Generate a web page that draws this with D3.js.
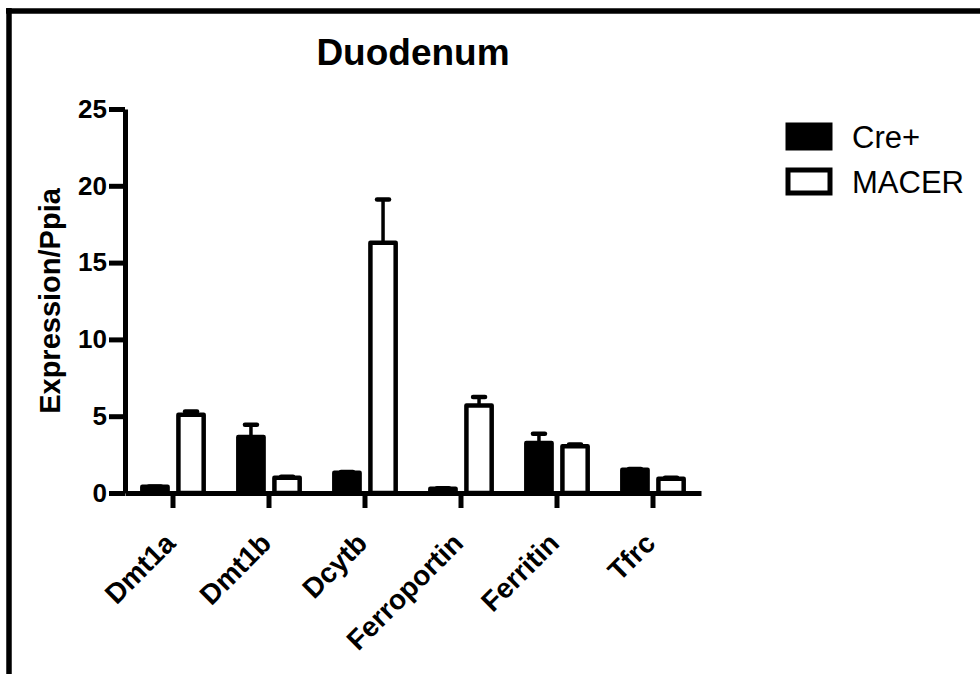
<!DOCTYPE html>
<html>
<head>
<meta charset="utf-8">
<script src="https://cdn.jsdelivr.net/npm/d3@7"></script>
<style>
  body { margin: 0; background: #fff; }
  svg { display: block; font-family: Arial, "Liberation Sans", Helvetica, sans-serif; }
</style>
</head>
<body>
<div id="chart"></div>
<script>
const categories = ["Dmt1a", "Dmt1b", "Dcytb", "Ferroportin", "Ferritin", "Tfrc"];
const groups = ["Cre+", "MACER"];
const creMeans = [0.4, 3.65, 1.32, 0.28, 3.25, 1.52];
const creErrors = [0.03, 0.8, 0.05, 0.03, 0.6, 0.04];
const macerMeans = [5.1, 1.0, 16.3, 5.7, 3.04, 0.93];
const macerErrors = [0.2, 0.06, 2.8, 0.55, 0.12, 0.07];
const yTicks = [0, 5, 10, 15, 20, 25];

const width = 980;
const height = 674;

const svg = d3.select("#chart")
  .append("svg")
  .attr("width", width)
  .attr("height", height);

// frame (top and left edges only)
svg.append("line")
  .attr("x1", 6).attr("x2", width)
  .attr("y1", 11).attr("y2", 11)
  .attr("stroke", "#000").attr("stroke-width", 5.5);
svg.append("line")
  .attr("x1", 9).attr("x2", 9)
  .attr("y1", 8).attr("y2", height)
  .attr("stroke", "#000").attr("stroke-width", 5.5);

const x = d3.scaleBand()
  .domain(categories)
  .range([125, 701]);

const xSub = d3.scaleBand()
  .domain(groups)
  .range([0, x.bandwidth()])
  .paddingInner(0.3)
  .paddingOuter(0.48);

const y = d3.scaleLinear()
  .domain([0, 25])
  .range([493, 109]);

const fills = { "Cre+": "#000", "MACER": "#fff" };

const rows = [];
categories.forEach((c, i) => {
  rows.push({ cat: c, group: "Cre+", mean: creMeans[i], err: creErrors[i] });
  rows.push({ cat: c, group: "MACER", mean: macerMeans[i], err: macerErrors[i] });
});

const bar = svg.selectAll(".bar")
  .data(rows)
  .enter().append("g")
  .attr("class", "bar")
  .attr("transform", d => `translate(${x(d.cat) + xSub(d.group)},0)`);

// error bars (upper only)
bar.append("line")
  .attr("x1", xSub.bandwidth() / 2).attr("x2", xSub.bandwidth() / 2)
  .attr("y1", d => y(d.mean)).attr("y2", d => y(d.mean + d.err))
  .attr("stroke", "#000").attr("stroke-width", 3.5);
bar.append("line")
  .attr("x1", xSub.bandwidth() / 2 - 6).attr("x2", xSub.bandwidth() / 2 + 6)
  .attr("y1", d => y(d.mean + d.err)).attr("y2", d => y(d.mean + d.err))
  .attr("stroke", "#000").attr("stroke-width", 4.5)
  .attr("stroke-linecap", "round");

bar.append("rect")
  .attr("x", 0)
  .attr("width", xSub.bandwidth())
  .attr("y", d => y(d.mean))
  .attr("height", d => y(0) - y(d.mean))
  .attr("fill", d => fills[d.group])
  .attr("stroke", "#000")
  .attr("stroke-width", 4.5)
  .attr("stroke-linejoin", "round");

// axes
const yAxis = svg.append("g")
  .attr("transform", "translate(125,0)")
  .call(d3.axisLeft(y).tickValues(yTicks).tickSize(16).tickSizeOuter(0).tickPadding(2));

const xAxis = svg.append("g")
  .attr("transform", "translate(0,493)")
  .call(d3.axisBottom(x).tickSize(15).tickSizeOuter(0));

[yAxis, xAxis].forEach(ax => {
  ax.select(".domain").attr("stroke", "#000").attr("stroke-width", 5);
  ax.selectAll(".tick line").attr("stroke", "#000").attr("stroke-width", 5);
});

yAxis.selectAll(".tick text")
  .attr("fill", "#000")
  .style("font-size", "26px")
  .style("font-weight", "bold");

xAxis.selectAll(".tick text")
  .attr("fill", "#000")
  .attr("x", 0).attr("y", 0).attr("dy", "0.35em")
  .attr("text-anchor", "end")
  .attr("transform", "translate(-3,45) rotate(-45)")
  .style("font-size", "28px")
  .style("font-weight", "bold");

// y axis title
svg.append("text")
  .attr("transform", "translate(60,301) rotate(-90)")
  .attr("text-anchor", "middle")
  .style("font-size", "29px")
  .style("font-weight", "bold")
  .text("Expression/Ppia");

// chart title
svg.append("text")
  .attr("x", 413)
  .attr("y", 65)
  .attr("text-anchor", "middle")
  .style("font-size", "37px")
  .style("font-weight", "bold")
  .text("Duodenum");

// legend
const legend = svg.selectAll(".legend-item")
  .data(groups)
  .enter().append("g")
  .attr("class", "legend-item")
  .attr("transform", (d, i) => `translate(788,${125 + i * 45})`);

legend.append("rect")
  .attr("width", 42)
  .attr("height", 23)
  .attr("fill", d => fills[d])
  .attr("stroke", "#000")
  .attr("stroke-width", 5);

legend.append("text")
  .attr("x", 64)
  .attr("y", 12)
  .attr("dy", "0.35em")
  .style("font-size", "31px")
  .text(d => d);
</script>
</body>
</html>
